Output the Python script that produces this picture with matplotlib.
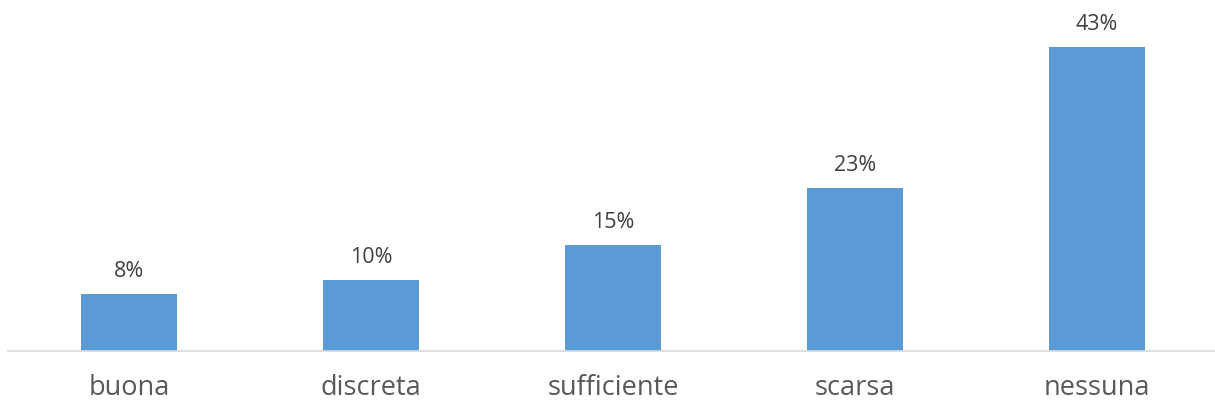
import matplotlib.pyplot as plt

categories = ["buona", "discreta", "sufficiente", "scarsa", "nessuna"]
values = [8, 10, 15, 23, 43]
labels = ["8%", "10%", "15%", "23%", "43%"]

plt.rcParams['font.family'] = ['Open Sans', 'DejaVu Sans']

fig = plt.figure(figsize=(12.15, 4.06), dpi=100)
ax = fig.add_axes([8 / 1215, 54 / 406, 1210 / 1215, 353.5 / 406])

x = range(len(categories))
bars = ax.bar(x, values, width=0.4, color="#5B9BD5", zorder=2)

# data labels: baseline ~18px above bar top
for xi, v, lab in zip(x, values, labels):
    ax.annotate(lab, (xi, v), xytext=(0, 13), textcoords="offset points",
                ha="center", va="baseline", fontsize=15.5, color="#404040")

ax.set_xlim(-0.5, 4.5)
ax.set_ylim(0, 50)
ax.set_xticks(list(x))
ax.set_xticklabels(categories, fontsize=19.5, color="#595959")
ax.tick_params(axis="x", length=0, pad=16)
ax.set_yticks([])

for side in ["top", "right", "left"]:
    ax.spines[side].set_visible(False)
ax.spines["bottom"].set_color("#D9D9D9")
ax.spines["bottom"].set_linewidth(1.2)

fig.savefig("out.png", dpi=100)
